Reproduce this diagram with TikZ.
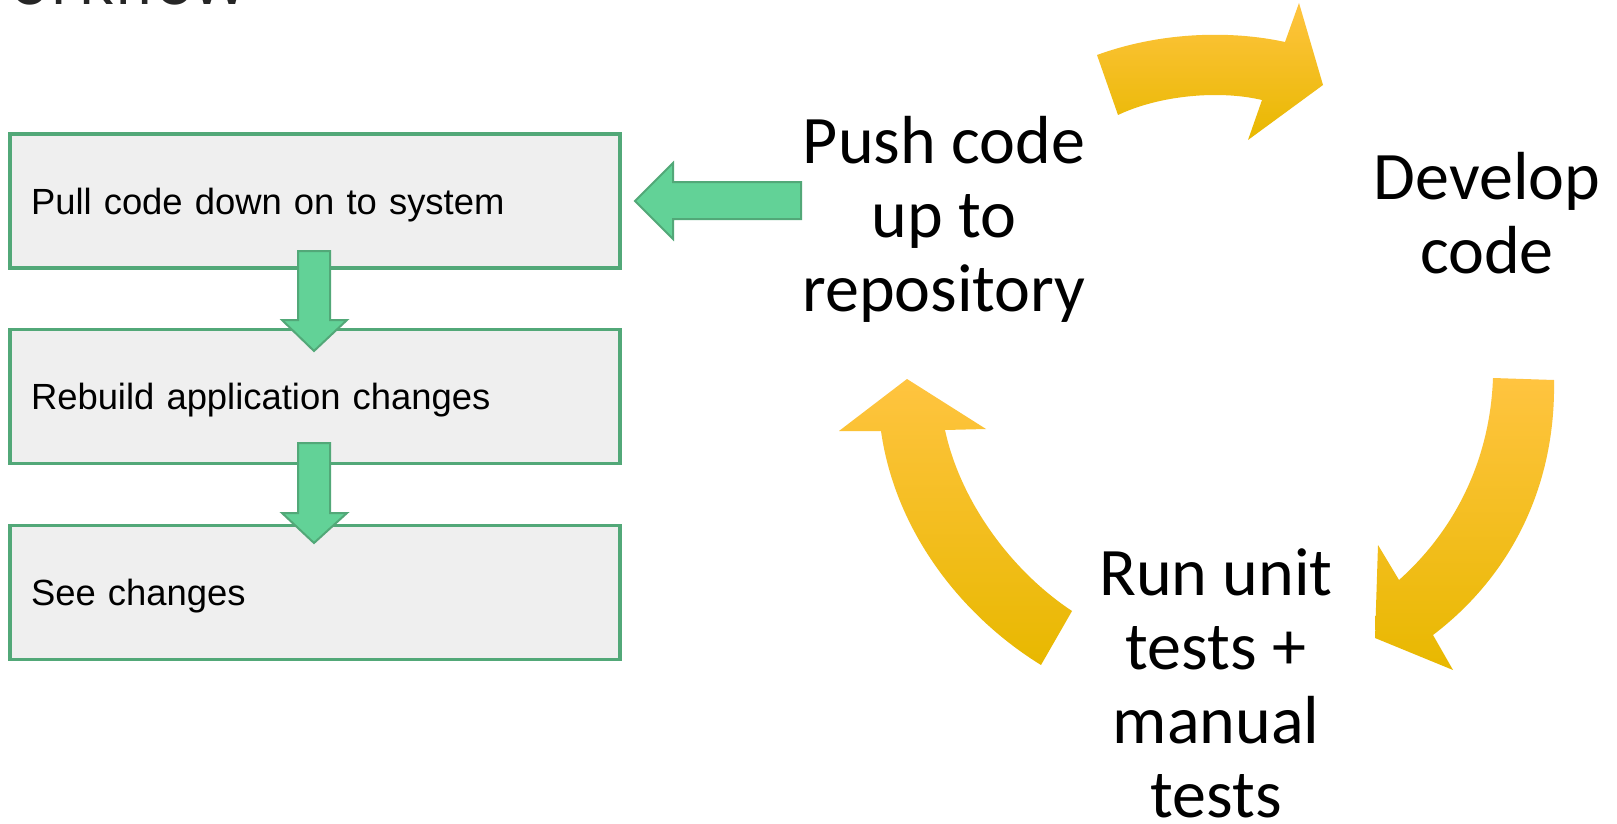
\documentclass[tikz,border=0pt]{standalone}
\usepackage{fontspec}
\setmainfont{Carlito}
\newfontfamily\arialfont{Liberation Sans}
\newfontfamily\titlefont{Open Sans}
\definecolor{boxgreen}{RGB}{82,168,120}
\definecolor{boxfill}{RGB}{239,239,239}
\definecolor{arrowgreen}{RGB}{98,210,151}
\definecolor{ytop}{RGB}{255,196,64}
\definecolor{ymid}{RGB}{255,200,0}
\definecolor{ybot}{RGB}{232,184,0}
\definecolor{titlegray}{RGB}{38,38,38}
\tikzset{
  procbox/.style={draw=boxgreen, line width=3.2pt, fill=boxfill, rectangle,
    minimum width=610pt, minimum height=134pt, text width=568pt, align=left,
    inner xsep=21pt, inner ysep=0pt, text depth=0pt,
    font=\arialfont\fontsize{36.4}{44}\selectfont},
  greenarrow/.style={draw=boxgreen, line width=2pt, fill=arrowgreen, line join=miter},
  cyclearrow/.style={top color=ytop, middle color=ymid, bottom color=ybot, draw=none},
  cycletext/.style={align=center, inner sep=0pt, font=\fontsize{68}{74}\selectfont}
}
\begin{document}
\begin{tikzpicture}[x=1pt, y=-1pt]
\useasboundingbox (0,0) rectangle (1617,824);
\clip (0,0) rectangle (1617,824);
\fill[white] (0,0) rectangle (1617,824);

% cut-off title
\node[anchor=base east, inner sep=0pt, text=titlegray,
  font=\titlefont\fontsize{68}{80}\selectfont] (title) at (247,4.5) {Workflow};

% process boxes
\node[procbox] (b1) at (315,201) {Pull code down on to system};
\node[procbox] (b2) at (315,396.5) {Rebuild application changes};
\node[procbox] (b3) at (315,592.5) {See changes};

% green block arrows
\draw[greenarrow] (298,251) -- (330,251) -- (330,320) -- (347,320) -- (314,351)
  -- (282,320) -- (298,320) -- cycle;
\draw[greenarrow] (298,443) -- (330,443) -- (330,513) -- (347,513) -- (314,543)
  -- (282,513) -- (298,513) -- cycle;
\draw[greenarrow] (801,182) -- (673,182) -- (673,163) -- (635,201) -- (673,239)
  -- (673,219) -- (801,219) -- cycle;

% cycle texts
\node[cycletext] (push) at (944,222.2) {\strut Push code\\\strut up to\\\strut repository};
\node[cycletext] (dev) at (1487,221.2) {\strut Develop\\\strut code};
\node[cycletext] (run) at (1216,691.2) {\strut Run unit\\\strut tests +\\\strut manual\\\strut tests};

% curved yellow arrows
\path[cyclearrow] (1097,55) .. controls (1160,32) and (1230,30) .. (1285,42)
  -- (1299,3) -- (1323,85) -- (1248,140) -- (1262,100)
  .. controls (1220,90) and (1160,95) .. (1118,115) -- cycle;
\path[cyclearrow] (1493,378) -- (1554,380)
  .. controls (1556,490) and (1508,578) .. (1433,635)
  -- (1453,670) -- (1375,638) -- (1378,545) -- (1399,580)
  .. controls (1455,530) and (1490,460) .. (1493,378) -- cycle;
\path[cyclearrow] (1072,611) -- (1041,665)
  .. controls (960,615) and (895,530) .. (881,431)
  -- (839,431) -- (907,379) -- (986,429) -- (945,430)
  .. controls (960,500) and (1010,570) .. (1072,611) -- cycle;
\end{tikzpicture}
\end{document}
